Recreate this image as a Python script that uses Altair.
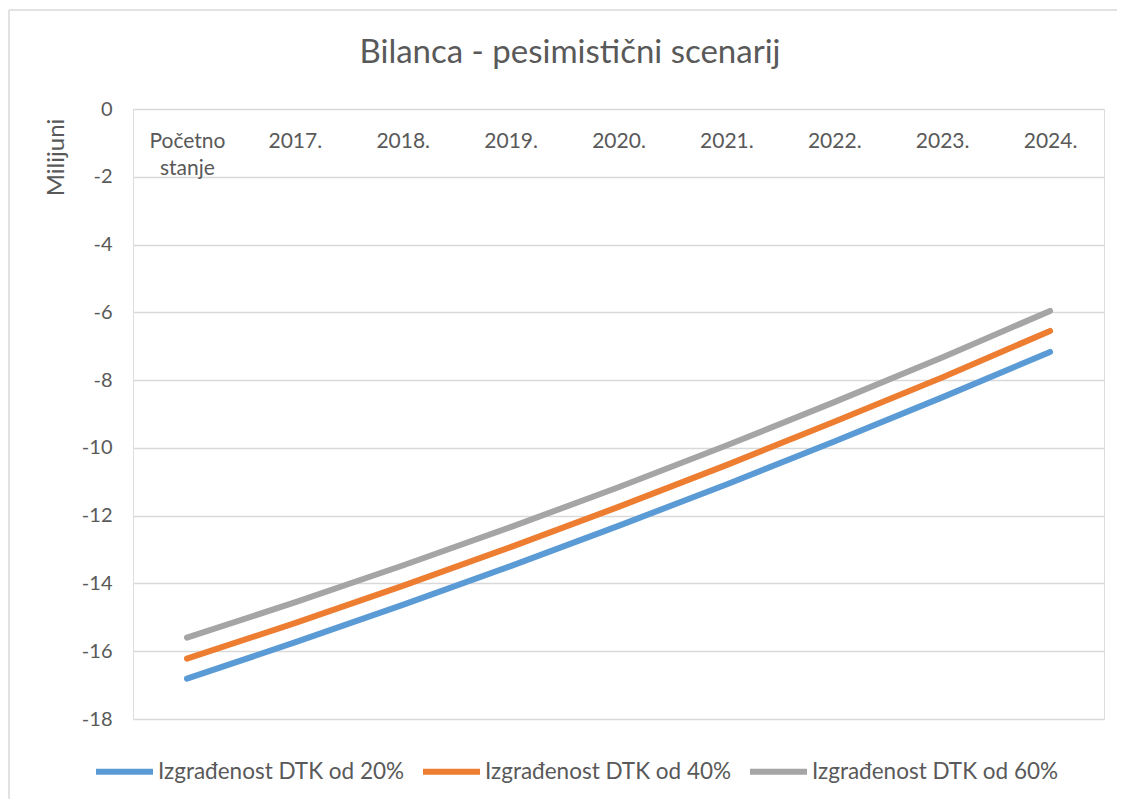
import altair as alt
import pandas as pd

categories = ["Početno stanje", "2017.", "2018.", "2019.", "2020.", "2021.", "2022.", "2023.", "2024."]
series_names = ["Izgrađenost DTK od 20%", "Izgrađenost DTK od 40%", "Izgrađenost DTK od 60%"]
dtk_20 = [-16.81, -15.74, -14.63, -13.49, -12.30, -11.08, -9.81, -8.51, -7.17]
dtk_40 = [-16.22, -15.17, -14.07, -12.93, -11.74, -10.51, -9.23, -7.92, -6.55]
dtk_60 = [-15.60, -14.56, -13.47, -12.34, -11.16, -9.93, -8.65, -7.33, -5.96]
colors = ["#5b9bd5", "#ed7d31", "#a5a5a5"]
y_ticks = [0, -2, -4, -6, -8, -10, -12, -14, -16, -18]
chart_title = "Bilanca - pesimistični scenarij"

rows = []
for name, vals in zip(series_names, [dtk_20, dtk_40, dtk_60]):
    for c, v in zip(categories, vals):
        rows.append({"kategorija": c, "serija": name, "vrijednost": v})
df = pd.DataFrame(rows)

W, H = 971, 610
FONT = "Lato"
TXT = "#595959"

lines = alt.Chart(df).mark_line(strokeWidth=6, strokeCap="round", strokeJoin="round").encode(
    x=alt.X("kategorija:N", sort=categories,
            scale=alt.Scale(type="point", padding=0.5),
            axis=alt.Axis(orient="bottom", offset=-H, title=None, domain=False, ticks=False,
                          labelAngle=0, labelFontSize=21, labelFont=FONT, labelColor=TXT,
                          labelPadding=21, labelLineHeight=27,
                          labelExpr="datum.label == 'Početno stanje' ? ['Početno', 'stanje'] : datum.label")),
    y=alt.Y("vrijednost:Q",
            scale=alt.Scale(domain=[-18, 0], nice=False, zero=False),
            axis=alt.Axis(title="Milijuni", values=y_ticks, domain=False, ticks=False,
                          grid=True, gridColor="#d9d9d9", gridWidth=1.3,
                          labelExpr="toString(datum.value)",
                          labelFontSize=20, labelFont=FONT, labelColor=TXT, labelPadding=21,
                          titleFont=FONT, titleFontSize=24, titleFontWeight="normal", titleColor=TXT,
                          titleAngle=270, titleX=-77, titleY=48, titleAlign="center",
                          titleBaseline="middle")),
    color=alt.Color("serija:N", title=None,
                    scale=alt.Scale(domain=series_names, range=colors),
                    legend=alt.Legend(orient="none", legendX=-40, legendY=631, direction="horizontal",
                                      symbolType="stroke", symbolSize=3249, symbolStrokeWidth=6,
                                      labelOffset=2, labelFontSize=22.5, labelFont=FONT,
                                      labelColor=TXT, columnPadding=6, labelLimit=400)),
)

title_layer = alt.Chart(pd.DataFrame({"t": [chart_title]})).mark_text(
    font=FONT, fontSize=33, color=TXT, align="center", baseline="alphabetic").encode(
    text="t:N", x=alt.value(437), y=alt.value(-46))

border_left = alt.Chart(pd.DataFrame({"a": [0]})).mark_rule(color="#d9d9d9", strokeWidth=1.5).encode(
    x=alt.value(-124), y=alt.value(-99), y2=alt.value(H + 90))
border_top = alt.Chart(pd.DataFrame({"a": [0]})).mark_rule(color="#d9d9d9", strokeWidth=1.5).encode(
    x=alt.value(-124), x2=alt.value(W + 20), y=alt.value(-99))

chart = alt.layer(border_left, border_top, title_layer, lines).properties(
    width=W, height=H,
    autosize=alt.AutoSizeParams(type="none"),
    padding={"left": 125, "top": 101, "right": 13, "bottom": 80},
).configure_view(stroke=None).configure(background="white")

chart.save("out.html", embed_options={"renderer": "svg", "actions": False})
